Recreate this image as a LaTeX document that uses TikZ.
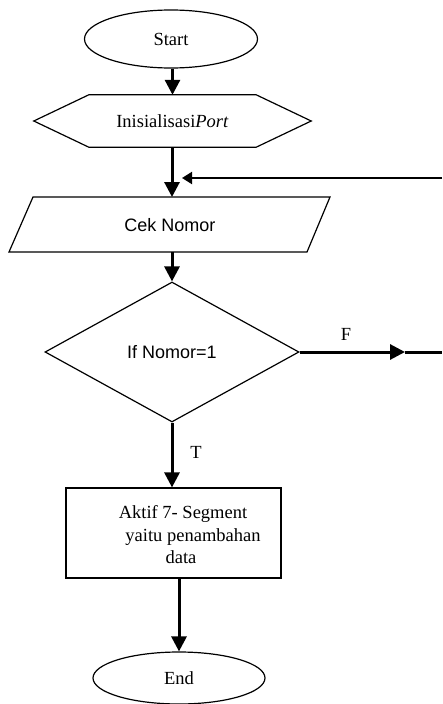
\documentclass[tikz,border=0pt]{standalone}
\usepackage{fontspec}
\setmainfont{Liberation Serif}
\newfontfamily\arialf{Liberation Sans}
\usetikzlibrary{arrows.meta,shapes.geometric}
\begin{document}
\begin{tikzpicture}[x=1pt,y=-1pt,
  shapeline/.style={draw=black,line width=1.2pt},
  conn/.style={line width=3pt,-{Triangle[width=15pt,length=15pt]}},
  thinconn/.style={line width=2pt,-{Triangle[width=12pt,length=10pt]}},
  plainline/.style={line width=3pt},
  serif/.style={font=\fontsize{18.5}{22.5}\selectfont},
  sans/.style={font=\arialf\fontsize{18}{22}\selectfont},
  lbl/.style={font=\fontsize{18.5}{22.5}\selectfont, inner sep=0pt}]
\useasboundingbox (0,0) rectangle (442,704);
% Start
\node[ellipse,shapeline,minimum width=173pt,minimum height=58pt,inner sep=0pt,serif] (start) at (171,39) {Start};
% Init (hexagon)
\node[serif,minimum width=277pt,minimum height=52pt,inner sep=0pt] (init) at (172.5,121) {Inisialisasi\textit{Port}};
\draw[shapeline] (init.west) -- ([xshift=55pt]init.north west) -- ([xshift=-55pt]init.north east)
  -- (init.east) -- ([xshift=-55pt]init.south east) -- ([xshift=55pt]init.south west) -- cycle;
% Cek Nomor (parallelogram)
\node[sans,inner sep=0pt] (cek) at (170,225) {Cek Nomor};
\coordinate (cektop) at (172,197);
\coordinate (cekbot) at (172,252);
\draw[shapeline] (33,197) -- (330,197) -- (307,252) -- (9,252) -- cycle;
% Decision
\node[diamond,shapeline,minimum width=254pt,minimum height=140pt,inner sep=0pt,sans] (dec) at (172,352) {If Nomor=1};
% Action
\node[draw=black,line width=1.2pt,minimum width=215pt,minimum height=90pt,inner sep=0pt] (act) at (173.5,533) {};
\node[serif,align=center,inner sep=0pt] (acttxt) at (183,535) {Aktif 7- Segment\\\hspace*{20pt}yaitu penambahan\\data\hspace*{4pt}};
% End
\node[ellipse,shapeline,minimum width=172pt,minimum height=52pt,inner sep=0pt,serif] (end) at (179,678) {End};
% feedback and F exits
\coordinate (fbin) at (442,178);
\coordinate (fbtip) at (182,178);
\coordinate (fmid) at (405,352);
\coordinate (fend) at (442,352);
% connectors
\draw[conn] (start.south -| init.north) -- (init.north);
\draw[conn] (init.south -| cektop) -- (cektop);
\draw[thinconn] (fbin) -- (fbtip);
\draw[conn] (cekbot) -- (dec.north);
\draw[conn] (dec.east) -- (fmid);
\draw[plainline] (fmid) -- (fend);
\draw[conn] (dec.south) -- (dec.south |- act.north);
\draw[conn] (end.north |- act.south) -- (end.north);
% labels
\node[lbl] (flbl) at (346,334) {F};
\node[lbl] (tlbl) at (196,452) {T};
\end{tikzpicture}
\end{document}
